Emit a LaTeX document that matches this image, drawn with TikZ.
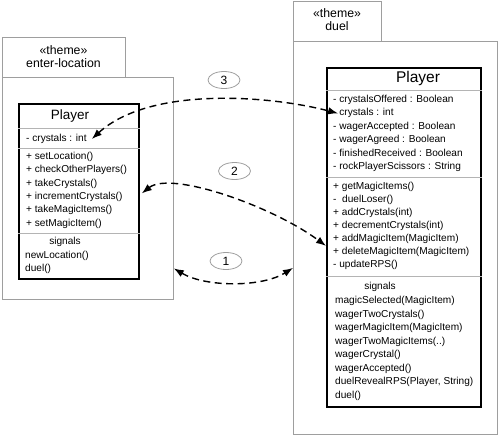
\documentclass[tikz,border=0pt]{standalone}
\usepackage{fontspec}
\setmainfont{Liberation Sans}
\usepackage{xcolor}
\usetikzlibrary{arrows.meta,shapes.geometric}
\definecolor{pkggray}{HTML}{9E9E9E}
\definecolor{sepgray}{HTML}{B4B4B4}

\begin{document}
\begin{tikzpicture}[x=1pt,y=-1pt,
  pkgbox/.style={draw=pkggray,line width=0.8pt,anchor=north west,inner sep=0pt},
  classbox/.style={draw=black,line width=1.8pt,anchor=north west,inner sep=0pt},
  compsep/.style={draw=sepgray,line width=0.8pt},
  member/.style={anchor=west,inner sep=0pt,text height=7.5pt,text depth=2.5pt,font=\fontsize{10.1}{12}\selectfont},
  tabtext/.style={inner sep=0pt,align=center,font=\fontsize{12.3}{12.5}\selectfont},
  bubble/.style={draw=pkggray,line width=0.8pt,ellipse,minimum width=32pt,minimum height=17pt,inner sep=0pt,font=\fontsize{12}{12}\selectfont},
  link/.style={line width=1.4pt,dash pattern=on 7pt off 4.5pt,<->,>={Latex[length=10pt,width=7.5pt]}}
]
  \useasboundingbox (0,0) rectangle (500,437);

  % packages
  \node[pkgbox,minimum width=123pt,minimum height=40pt] (ltab) at (2,37) {};
  \node[pkgbox,minimum width=171pt,minimum height=222pt] (lpkg) at (2,77) {};
  \node[tabtext] (lname) at (63.5,56.5) {«theme»\\enter-location};
  \node[pkgbox,minimum width=88pt,minimum height=40pt] (rtab) at (293,1) {};
  \node[pkgbox,minimum width=204pt,minimum height=393pt] (rpkg) at (293,41) {};
  \node[tabtext] (rname) at (337,19.5) {«theme»\\duel};

  % left class
  \node[classbox,minimum width=120pt,minimum height=175pt] (lplayer) at (18,103) {};
  \foreach \d in {25,45,130}
    \draw[compsep] ([yshift=-\d pt]lplayer.north west) -- ([yshift=-\d pt]lplayer.north east);
  \node[font=\fontsize{13.5}{14}\selectfont,inner sep=0pt] (ltitle) at (70,116.5) {Player};
  \node[member] (lattr) at (26,139) {- crystals : int};
  \foreach \txt [count=\i] in {+ setLocation(), + checkOtherPlayers(), + takeCrystals(),
      + incrementCrystals(), + takeMagicItems(), + setMagicItem()}
    \node[member] (lo\i) at (26,{157+13.35*(\i-1)}) {\txt};
  \node[member,anchor=center] (lsig) at (65,242) {signals};
  \node[member] (ls1) at (25,256) {newLocation()};
  \node[member] (ls2) at (25,269) {duel()};

  % right class
  \node[classbox,minimum width=154pt,minimum height=339pt] (rplayer) at (326,67) {};
  \foreach \d in {23,110,209}
    \draw[compsep] ([yshift=-\d pt]rplayer.north west) -- ([yshift=-\d pt]rplayer.north east);
  \node[font=\fontsize{15.5}{16}\selectfont,inner sep=0pt] (rtitle) at (418,78.7) {Player};
  \foreach \txt [count=\i] in {- crystalsOffered : Boolean, - crystals : int,
      - wagerAccepted : Boolean, - wagerAgreed : Boolean,
      - finishedReceived : Boolean, - rockPlayerScissors : String}
    \node[member] (ra\i) at (333,{100+13.4*(\i-1)}) {\txt};
  \foreach \txt [count=\i] in {+ getMagicItems(), -\ \ duelLoser(), + addCrystals(int),
      + decrementCrystals(int), + addMagicItem(MagicItem),
      + deleteMagicItem(MagicItem), - updateRPS()}
    \node[member] (ro\i) at (333,{187+13*(\i-1)}) {\txt};
  \node[member,anchor=center] (rsig) at (380,287) {signals};
  \foreach \txt [count=\i] in {magicSelected(MagicItem), wagerTwoCrystals(),
      wagerMagicItem(MagicItem), wagerTwoMagicItems(..), wagerCrystal(),
      wagerAccepted(), {duelRevealRPS(Player, String)}, duel()}
    \node[member] (rs\i) at (335,{301+13.5*(\i-1)}) {\txt};

  % dependencies
  \node[bubble] (n3) at (224,80) {3};
  \node[bubble] (n2) at (234.5,171) {2};
  \node[bubble] (n1) at (226,261) {1};
  \coordinate (a2r) at ([yshift=-8.5pt]rplayer.west);
  \coordinate (a1l) at ([yshift=-80pt]lpkg.east);
  \coordinate (a1r) at ([yshift=-30pt]rpkg.west);
  \draw[link] ([xshift=5pt]lattr.east) .. controls +(58,-53) and +(-68,-18) .. ([xshift=5pt]ra2.west);
  \draw[link] ([yshift=-2pt,xshift=2pt]lplayer.east) .. controls +(29,-23) and +(-54,-40) .. (a2r);
  \draw[link] (a1l) .. controls +(32,19) and +(-31,19.5) .. (a1r);
\end{tikzpicture}
\end{document}
